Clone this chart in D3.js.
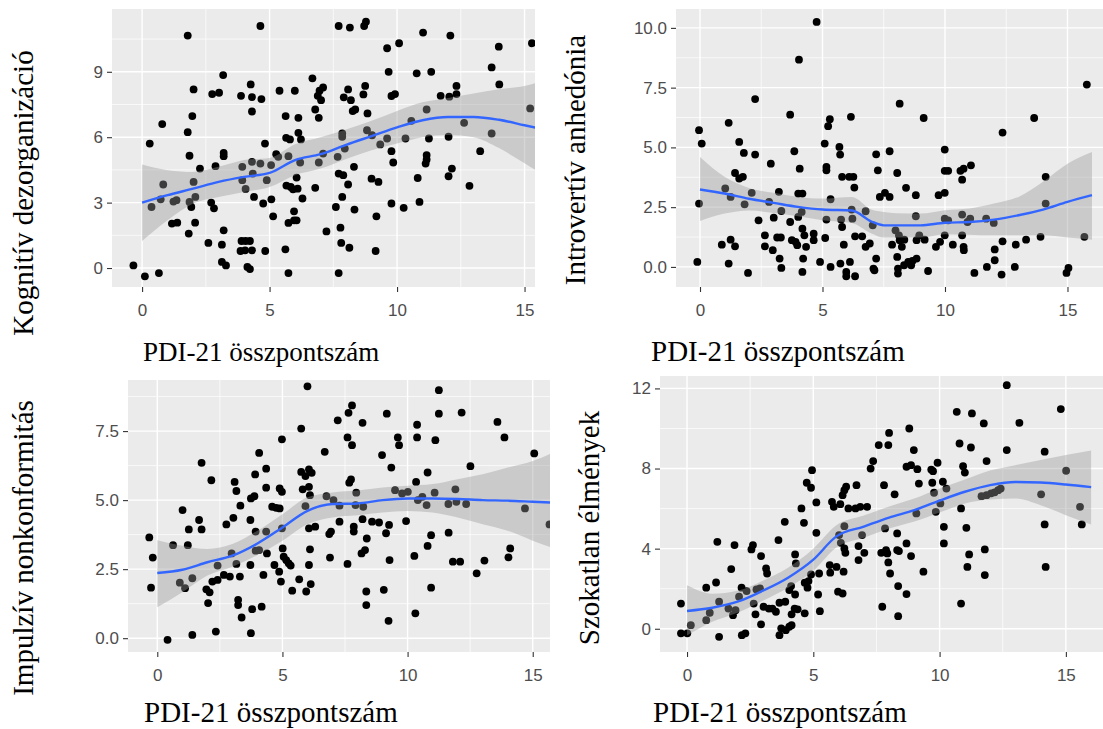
<!DOCTYPE html>
<html>
<head>
<meta charset="utf-8">
<script src="https://cdn.jsdelivr.net/npm/d3@7"></script>
<style>
  body { margin: 0; background: #fff; }
  svg { display: block; }
</style>
</head>
<body>
<svg id="chart" width="1103" height="729"></svg>
<script>
// ---- data: [PDI-21 total, subscale score] ----
const kognitivPoints = [
  [-0.34,0.12],[0.11,-0.38],[0.66,-0.23],[0.30,5.71],[0.37,2.80],[0.79,6.60],[0.83,3.83],[0.73,3.15],[1.17,2.04],[1.38,2.08],
  [1.23,3.05],[1.35,3.11],[1.79,10.66],[1.79,6.23],[1.86,5.15],[1.97,6.97],[2.02,8.19],[1.86,3.03],[1.93,2.80],[1.83,1.58],
  [2.02,3.95],[2.09,3.26],[2.08,2.08],[2.27,4.56],[2.60,1.15],[2.71,3.00],[2.82,2.74],[2.88,4.67],[2.75,7.98],[3.02,8.04],
  [3.18,8.85],[3.20,5.28],[3.20,5.13],[3.20,1.73],[3.13,1.07],[3.13,0.28],[3.29,0.12],[3.88,7.90],[3.93,4.64],[3.93,4.03],
  [4.06,3.63],[3.90,1.24],[4.06,1.24],[4.23,1.24],[3.86,0.78],[4.04,0.81],[4.31,0.81],[4.13,0.05],[4.23,-0.05],[4.26,8.42],
  [4.31,7.84],[4.31,7.18],[4.31,4.87],[4.34,4.33],[4.39,3.26],[4.64,11.10],[4.68,7.75],[4.64,4.79],[4.82,5.71],[4.75,2.96],
  [4.83,0.78],[4.89,4.03],[5.06,4.72],[5.07,3.15],[5.14,2.37],[5.26,5.22],[5.34,5.10],[5.39,8.13],[5.63,6.97],[5.65,5.97],
  [5.80,5.90],[5.66,3.78],[5.83,3.72],[5.92,3.61],[5.96,2.60],[5.96,2.19],[5.74,2.07],[5.62,0.86],[5.74,-0.23],[5.74,5.13],
  [5.99,8.13],[6.13,6.89],[6.13,6.20],[6.23,5.90],[6.20,4.84],[6.06,4.15],[6.10,3.64],[6.29,3.19],[6.06,2.19],[6.68,8.70],
  [6.79,7.27],[6.89,7.90],[6.96,8.13],[7.10,8.28],[7.02,7.70],[6.93,6.89],[7.10,5.25],[6.93,4.84],[6.79,3.68],[7.23,1.68],
  [7.71,11.10],[8.15,11.03],[8.71,11.10],[8.78,11.30],[7.67,5.10],[7.85,6.17],[7.85,6.02],[7.95,5.48],[7.71,4.33],[7.89,4.26],
  [8.08,3.83],[7.85,3.26],[7.60,2.80],[7.78,1.85],[7.81,1.15],[8.13,0.93],[7.71,-0.23],[8.08,8.19],[7.91,7.83],[8.19,7.70],
  [8.26,7.20],[8.36,7.27],[8.31,4.64],[8.33,2.68],[8.68,7.96],[8.75,8.35],[8.84,7.09],[8.82,6.32],[9.02,6.09],[9.00,4.10],
  [9.19,2.37],[9.16,0.78],[9.34,5.67],[9.27,3.95],[9.61,10.08],[9.67,9.00],[9.78,7.89],[9.92,7.98],[9.61,5.94],[9.78,5.36],
  [9.85,4.84],[9.78,2.96],[10.08,10.31],[10.33,5.94],[10.26,2.76],[11.02,10.80],[10.77,8.93],[11.34,9.00],[11.16,7.27],[11.25,5.94],
  [11.16,5.18],[11.16,4.98],[11.12,4.79],[10.81,4.13],[10.88,3.03],[10.56,6.75],[11.71,7.90],[12.05,7.86],[12.09,10.66],[12.33,8.35],
  [12.33,7.98],[12.02,6.02],[12.15,4.56],[12.02,4.21],[12.63,6.66],[12.84,3.77],[13.26,5.36],[13.71,9.20],[13.71,6.17],[13.99,10.15],
  [14.01,8.42],[15.22,7.32],[15.29,10.31]
];

const introvertPoints = [
  [-0.11,0.21],[-0.04,2.65],[-0.04,5.72],[0.07,5.16],[0.89,0.93],[1.03,3.28],[1.17,6.03],[1.17,0.14],[1.25,1.14],[1.25,2.93],
  [1.43,0.86],[1.43,3.93],[1.60,5.23],[1.60,3.70],[1.75,3.77],[1.79,4.77],[1.82,2.62],[1.96,-0.25],[2.11,3.10],[2.25,7.02],
  [2.25,4.70],[2.39,1.95],[2.65,1.32],[2.65,0.86],[2.82,2.72],[2.89,4.32],[2.97,0.70],[3.01,2.06],[3.15,1.23],[3.30,1.23],
  [3.25,0.35],[3.32,-0.04],[3.22,3.14],[3.32,2.34],[3.68,6.37],[3.68,1.88],[3.75,1.12],[3.85,4.84],[3.90,1.05],[3.97,0.91],
  [4.01,2.09],[4.04,8.67],[4.07,4.11],[4.01,3.07],[4.18,3.07],[4.15,2.30],[4.18,1.60],[4.21,0.35],[4.18,-0.21],[4.26,1.32],
  [4.33,0.84],[4.64,1.39],[4.64,1.12],[4.76,10.25],[4.90,0.21],[5.09,5.16],[5.16,4.18],[5.16,4.04],[5.11,1.21],[5.16,1.98],
  [5.23,5.89],[5.30,6.18],[5.33,2.83],[5.33,0.00],[5.69,5.02],[5.72,4.70],[5.73,0.14],[5.80,3.77],[5.76,1.98],[5.80,1.67],
  [5.87,0.93],[5.97,-0.21],[5.97,-0.39],[6.09,3.77],[6.16,6.28],[6.12,0.21],[6.19,2.40],[6.22,2.02],[6.30,3.32],[6.33,-0.39],
  [6.26,3.77],[6.33,1.28],[6.62,1.28],[6.76,2.33],[6.76,0.84],[6.93,0.98],[7.05,1.74],[7.08,-0.07],[7.12,-0.14],[7.19,0.35],
  [7.19,4.71],[7.26,4.04],[7.34,2.93],[7.55,3.10],[7.74,2.93],[7.74,4.84],[7.84,0.93],[7.98,1.53],[8.05,3.93],[8.05,0.42],
  [8.15,6.83],[8.12,1.32],[8.15,1.12],[8.08,-0.07],[8.08,-0.28],[8.24,0.84],[8.34,1.14],[8.41,3.31],[8.33,0.07],[8.50,0.21],
  [8.62,0.07],[8.67,0.25],[8.81,3.00],[8.81,2.12],[8.84,1.12],[8.84,0.35],[8.95,1.32],[9.13,6.23],[9.17,1.14],[9.31,-0.17],
  [9.63,0.84],[9.74,3.00],[9.80,1.05],[9.99,4.91],[9.99,3.10],[9.99,4.02],[10.13,4.02],[9.99,2.02],[9.99,1.32],[10.13,1.95],
  [10.32,0.93],[10.63,4.02],[10.70,3.65],[10.76,4.11],[10.76,0.84],[10.77,0.70],[10.70,2.19],[10.70,1.32],[10.92,1.88],[11.06,4.25],
  [11.03,2.02],[11.20,-0.25],[11.68,2.02],[11.71,0.00],[11.99,1.84],[12.03,0.73],[12.03,0.28],[12.35,5.62],[12.35,1.07],[12.31,-0.32],
  [12.89,0.93],[12.85,0.00],[13.31,1.14],[13.64,6.23],[13.90,1.26],[14.11,3.77],[14.11,2.65],[14.96,-0.25],[15.04,-0.04],[15.69,1.26],
  [15.79,7.63]
];

const impulzivPoints = [
  [-0.32,3.65],[-0.18,2.92],[-0.25,1.83],[0.41,-0.06],[0.63,3.37],[0.90,2.01],[1.01,4.64],[1.11,1.81],[1.22,3.37],[1.26,3.94],
  [1.40,2.17],[1.40,0.12],[1.67,4.28],[1.77,6.35],[1.77,3.94],[1.96,1.77],[2.03,1.27],[2.09,1.66],[2.16,5.72],[2.20,2.05],
  [2.34,0.24],[2.41,2.11],[2.41,2.63],[2.66,2.29],[2.76,4.12],[2.90,2.23],[2.97,3.07],[3.04,4.36],[3.09,5.66],[3.16,5.33],
  [3.16,2.69],[3.23,1.39],[3.23,1.20],[3.30,2.23],[3.32,4.80],[3.37,0.75],[3.72,4.28],[3.72,2.65],[3.74,5.06],[3.74,0.18],
  [3.79,1.05],[3.88,5.14],[3.91,5.93],[3.93,3.86],[3.93,3.17],[4.07,3.19],[4.07,6.71],[4.17,1.14],[4.24,2.29],[4.35,6.14],
  [4.35,5.45],[4.35,3.86],[4.38,3.07],[4.59,4.76],[4.68,2.65],[4.75,4.72],[4.87,2.41],[4.89,5.42],[4.89,4.70],[4.94,2.05],
  [4.98,7.20],[4.98,5.30],[4.98,3.98],[5.01,3.25],[5.05,2.95],[5.15,2.83],[5.25,2.71],[5.33,2.63],[5.39,1.72],[5.67,2.13],
  [5.75,7.59],[5.75,6.02],[5.81,5.39],[5.92,4.78],[5.95,1.69],[6.00,9.12],[5.92,5.87],[6.06,6.11],[6.06,5.48],[6.10,5.18],
  [6.06,3.98],[6.10,3.22],[6.06,2.65],[6.13,1.96],[6.17,5.99],[6.31,4.04],[6.69,6.75],[6.76,5.14],[6.87,3.77],[6.90,2.92],
  [6.94,3.86],[7.04,5.00],[7.21,7.89],[7.28,4.80],[7.28,4.22],[7.60,7.27],[7.60,2.69],[7.64,8.16],[7.78,8.43],[7.78,6.99],
  [7.67,5.63],[7.74,5.75],[7.85,4.04],[7.85,3.86],[7.95,5.27],[7.92,4.82],[8.20,7.80],[8.20,4.31],[8.16,3.07],[8.30,3.19],
  [8.37,3.61],[8.35,1.69],[8.35,1.20],[8.23,4.76],[8.58,4.22],[8.86,4.19],[8.98,6.63],[9.05,1.75],[9.14,3.80],[9.17,8.13],
  [9.26,4.10],[9.28,2.83],[9.24,0.63],[9.35,6.18],[9.61,7.27],[9.66,6.99],[9.50,5.36],[9.78,5.24],[9.94,4.24],[10.01,5.30],
  [10.27,2.98],[10.31,0.90],[10.34,5.66],[10.38,7.73],[10.38,7.27],[10.41,5.00],[10.59,5.12],[10.76,4.82],[10.80,6.00],[10.80,3.34],
  [10.94,3.73],[10.94,1.83],[11.11,7.17],[11.08,5.27],[11.25,8.98],[11.25,8.13],[11.63,4.86],[11.64,3.82],[11.81,2.77],[11.91,5.39],
  [11.95,4.94],[12.10,2.77],[12.16,8.17],[12.34,4.86],[12.51,6.23],[12.76,2.35],[13.07,2.81],[13.59,7.83],[13.87,7.27],[14.03,2.93],
  [14.10,3.25],[14.69,4.70],[15.06,6.69],[15.67,4.12]
];

const szokatlanPoints = [
  [-0.24,1.26],[-0.24,-0.23],[0.01,-0.23],[0.15,0.18],[0.76,2.05],[0.76,0.43],[0.90,0.80],[1.15,2.31],[1.20,4.34],[1.27,1.35],
  [1.27,-0.40],[1.64,1.01],[1.75,2.98],[1.82,0.68],[1.88,4.18],[1.92,0.93],[2.06,1.60],[2.16,2.05],[2.17,-0.32],[2.31,-0.23],
  [2.36,1.88],[2.55,3.96],[2.61,4.18],[2.64,1.26],[2.71,0.72],[2.75,1.96],[2.89,2.01],[2.93,3.63],[2.93,0.22],[3.03,1.10],
  [3.13,3.01],[3.17,2.76],[3.24,1.01],[3.38,1.01],[3.52,0.85],[3.62,4.43],[3.66,1.30],[3.66,-0.32],[3.73,0.02],[3.87,5.34],
  [3.89,1.35],[3.91,-0.07],[4.05,0.10],[4.14,0.18],[4.05,1.93],[4.12,2.13],[4.14,0.72],[4.28,3.71],[4.31,3.26],[4.28,1.71],
  [4.26,1.01],[4.38,0.97],[4.53,6.01],[4.63,5.29],[4.66,2.30],[4.66,0.77],[4.74,7.29],[4.77,2.05],[4.81,2.38],[4.91,2.71],
  [4.91,7.04],[4.95,7.92],[5.12,6.31],[5.12,4.79],[5.19,1.71],[5.23,2.76],[5.26,0.88],[5.65,3.18],[5.67,2.80],[5.74,6.34],
  [5.81,6.09],[5.92,3.09],[5.98,1.85],[6.02,4.68],[6.07,6.22],[6.09,4.29],[6.16,1.76],[6.16,6.67],[6.23,6.92],[6.23,5.12],
  [6.30,7.09],[6.23,4.01],[6.27,3.79],[6.20,2.85],[6.39,6.01],[6.67,6.01],[6.71,7.17],[6.79,4.13],[6.79,3.43],[6.86,6.09],
  [6.93,4.68],[7.02,3.79],[7.13,6.09],[7.27,8.00],[7.37,8.37],[7.59,9.17],[7.73,1.10],[7.69,3.79],[7.80,7.17],[7.84,5.01],
  [7.88,3.93],[7.93,3.76],[7.97,9.17],[8.00,9.78],[7.97,3.31],[8.04,2.76],[8.22,6.71],[8.32,4.76],[8.32,3.93],[8.36,2.13],
  [8.36,0.63],[8.39,3.88],[8.69,4.26],[8.69,1.73],[8.69,8.09],[8.80,10.00],[8.87,3.63],[8.87,8.17],[8.98,8.92],[9.08,5.76],
  [9.12,7.97],[9.18,7.25],[9.36,2.85],[9.67,7.95],[9.71,7.29],[9.74,7.87],[9.78,6.79],[9.85,5.84],[9.92,8.29],[10.03,6.26],
  [10.13,7.34],[10.17,5.09],[10.17,4.26],[10.27,7.00],[10.68,10.83],[10.79,9.25],[10.85,6.01],[10.85,1.26],[10.93,8.12],[11.00,7.80],
  [11.06,5.04],[11.10,3.09],[11.17,3.71],[11.28,10.75],[11.24,9.05],[11.66,6.62],[11.75,10.25],[11.79,3.96],[11.79,2.68],[11.86,8.37],
  [11.86,6.67],[12.04,6.76],[12.18,6.81],[12.32,6.92],[12.42,7.00],[12.66,12.16],[12.66,8.92],[13.16,10.28],[14.02,6.71],[14.16,8.84],
  [14.16,5.21],[14.20,3.09],[14.80,10.97],[15.01,7.89],[15.56,6.09],[15.63,5.21]
];

// loess fit: [x, fit, lower, upper]
const kognitivSmooth = [
  [0,3.00,1.24,4.75],[1,3.34,2.19,4.49],[2,3.64,2.96,4.41],[3,3.95,3.26,4.64],[4,4.18,3.49,4.95],[5,4.36,3.72,5.05],
  [6,4.95,4.26,5.68],[7,5.22,4.56,6.00],[8,5.65,5.00,6.35],[9,6.05,5.40,6.75],[10,6.45,5.71,7.20],[11,6.78,6.00,7.60],
  [12,6.93,6.10,7.80],[13,6.93,6.00,8.00],[14,6.80,5.50,8.20],[15,6.55,4.80,8.35],[16,6.30,4.10,8.70]
];
const introvertSmooth = [
  [0,3.24,1.92,4.60],[1,3.07,2.23,3.77],[2,2.85,2.36,3.30],[3,2.68,2.26,3.10],[4,2.51,2.12,2.93],[5,2.40,1.95,2.86],
  [6.2,2.36,1.84,2.93],[7,1.90,1.40,2.40],[7.5,1.74,1.23,2.30],[8,1.74,1.23,2.25],[9,1.74,1.23,2.23],[10,1.85,1.37,2.37],
  [11,1.88,1.35,2.44],[12,1.98,1.32,2.65],[13,2.16,1.32,2.93],[14,2.40,1.32,3.56],[15,2.72,1.23,4.32],[16,3.00,1.14,4.81]
];
const impulzivSmooth = [
  [0,2.36,1.12,3.55],[1,2.48,1.66,3.35],[2,2.75,2.27,3.23],[3,2.99,2.59,3.41],[4,3.43,3.01,3.89],[5,4.01,3.53,4.49],
  [6,4.61,4.13,5.10],[7,4.86,4.37,5.28],[8,4.88,4.45,5.35],[9,5.00,4.55,5.46],[10,5.06,4.61,5.52],[11,5.06,4.55,5.58],
  [12,5.04,4.37,5.76],[13,5.00,4.13,5.94],[14,4.98,3.89,6.18],[15,4.94,3.53,6.42],[16,4.90,3.20,6.80]
];
const szokatlanSmooth = [
  [0,0.89,-0.33,2.17],[1,1.05,0.35,1.75],[2,1.35,0.80,1.90],[3,1.90,1.40,2.40],[4,2.55,2.05,3.05],[5,3.45,2.90,4.00],
  [5.9,4.60,4.05,5.15],[7,5.10,4.55,5.65],[8,5.55,5.00,6.10],[9,5.92,5.35,6.50],[10,6.40,5.80,7.00],[11,6.84,6.25,7.45],
  [12,7.17,6.45,7.90],[13,7.33,6.50,8.17],[14,7.30,6.17,8.42],[15,7.20,5.67,8.67],[16,7.07,5.20,8.90]
];

// tick labels
const xTickValues = [0, 5, 10, 15];
const kognitivYTicks = [0, 3, 6, 9];
const introvertYTicks = [0, 2.5, 5, 7.5, 10];
const impulzivYTicks = [0, 2.5, 5, 7.5];
const szokatlanYTicks = [0, 4, 8, 12];

const xTitle = "PDI-21 összpontszám";

const panels = [
  { id: 1, yTitle: "Kognitív dezorganizáció", points: kognitivPoints, smooth: kognitivSmooth,
    yTicks: kognitivYTicks, yFormat: d3.format("d"),
    left: 112, right: 535, top: 9, bottom: 287, xDomain: [-1.18, 15.41], yDomain: [-0.87, 11.88],
    yTitleX: 33, yTitleY: 193, xTitleX: 143, xTitleY: 361, xTitleSize: 27 },
  { id: 2, yTitle: "Introvertív anhedónia", points: introvertPoints, smooth: introvertSmooth,
    yTicks: introvertYTicks, yFormat: d3.format(".1f"),
    left: 676, right: 1103, top: 9, bottom: 287, xDomain: [-0.98, 16.45], yDomain: [-0.84, 10.79],
    yTitleX: 585, yTitleY: 160, xTitleX: 651, xTitleY: 361, xTitleSize: 29 },
  { id: 3, yTitle: "Impulzív nonkonformitás", points: impulzivPoints, smooth: impulzivSmooth,
    yTicks: impulzivYTicks, yFormat: d3.format(".1f"),
    left: 128, right: 550, top: 380, bottom: 652, xDomain: [-1.17, 15.69], yDomain: [-0.50, 9.35],
    yTitleX: 33, yTitleY: 548, xTitleX: 144, xTitleY: 722, xTitleSize: 29 },
  { id: 4, yTitle: "Szokatlan élmények", points: szokatlanPoints, smooth: szokatlanSmooth,
    yTicks: szokatlanYTicks, yFormat: d3.format("d"),
    left: 660, right: 1103, top: 376, bottom: 652, xDomain: [-1.07, 16.47], yDomain: [-1.16, 12.62],
    yTitleX: 599, yTitleY: 528, xTitleX: 653, xTitleY: 722, xTitleSize: 29 }
];

const svg = d3.select("#chart");

// midpoints between major breaks, plus one step outside if still in range
function minorBreaks(major, domain) {
  const step = major[1] - major[0];
  const out = [];
  for (let v = major[0] - step / 2; v <= domain[1]; v += step) {
    if (v >= domain[0]) out.push(v);
  }
  return out;
}

function drawPanel(p) {
  const x = d3.scaleLinear().domain(p.xDomain).range([p.left, p.right]);
  const y = d3.scaleLinear().domain(p.yDomain).range([p.bottom, p.top]);
  const clipId = "clip" + p.id;

  svg.append("clipPath").attr("id", clipId)
    .append("rect")
    .attr("x", p.left).attr("y", p.top)
    .attr("width", p.right - p.left).attr("height", p.bottom - p.top);

  const g = svg.append("g").attr("clip-path", `url(#${clipId})`);

  g.append("rect")
    .attr("x", p.left).attr("y", p.top)
    .attr("width", p.right - p.left).attr("height", p.bottom - p.top)
    .attr("fill", "#EBEBEB");

  // minor grid
  g.selectAll(".minor-x").data(minorBreaks(xTickValues, p.xDomain)).enter()
    .append("line")
    .attr("x1", d => x(d)).attr("x2", d => x(d))
    .attr("y1", p.top).attr("y2", p.bottom)
    .attr("stroke", "#fff").attr("stroke-width", 0.7);
  g.selectAll(".minor-y").data(minorBreaks(p.yTicks, p.yDomain)).enter()
    .append("line")
    .attr("y1", d => y(d)).attr("y2", d => y(d))
    .attr("x1", p.left).attr("x2", p.right)
    .attr("stroke", "#fff").attr("stroke-width", 0.7);

  // major grid
  g.selectAll(".major-x").data(xTickValues).enter()
    .append("line")
    .attr("x1", d => x(d)).attr("x2", d => x(d))
    .attr("y1", p.top).attr("y2", p.bottom)
    .attr("stroke", "#fff").attr("stroke-width", 1.4);
  g.selectAll(".major-y").data(p.yTicks).enter()
    .append("line")
    .attr("y1", d => y(d)).attr("y2", d => y(d))
    .attr("x1", p.left).attr("x2", p.right)
    .attr("stroke", "#fff").attr("stroke-width", 1.4);

  // points
  g.selectAll(".pt").data(p.points).enter()
    .append("circle")
    .attr("cx", d => x(d[0]))
    .attr("cy", d => y(d[1]))
    .attr("r", 3.9)
    .attr("fill", "#000");

  // confidence ribbon
  const area = d3.area()
    .x(d => x(d[0]))
    .y0(d => y(d[2]))
    .y1(d => y(d[3]))
    .curve(d3.curveMonotoneX);
  g.append("path")
    .datum(p.smooth)
    .attr("d", area)
    .attr("fill", "#999999")
    .attr("fill-opacity", 0.4);

  // fitted line
  const line = d3.line()
    .x(d => x(d[0]))
    .y(d => y(d[1]))
    .curve(d3.curveMonotoneX);
  g.append("path")
    .datum(p.smooth)
    .attr("d", line)
    .attr("fill", "none")
    .attr("stroke", "#3366FF")
    .attr("stroke-width", 2.4);

  // axes
  const xAxis = svg.append("g")
    .attr("transform", `translate(0,${p.bottom})`)
    .call(d3.axisBottom(x).tickValues(xTickValues).tickSize(5).tickPadding(12).tickFormat(d3.format("d")));
  const yAxis = svg.append("g")
    .attr("transform", `translate(${p.left},0)`)
    .call(d3.axisLeft(y).tickValues(p.yTicks).tickSize(5).tickPadding(4).tickFormat(p.yFormat));

  [xAxis, yAxis].forEach(a => {
    a.select(".domain").remove();
    a.selectAll(".tick line").attr("stroke", "#333333").attr("stroke-width", 1.1);
    a.selectAll(".tick text")
      .attr("fill", "#4D4D4D")
      .style("font-family", "'Liberation Sans', Arial, sans-serif")
      .style("font-size", "17px");
  });

  // titles
  svg.append("text")
    .attr("x", p.xTitleX)
    .attr("y", p.xTitleY)
    .attr("text-anchor", "start")
    .style("font-family", "'Liberation Serif', 'Times New Roman', serif")
    .style("font-size", p.xTitleSize + "px")
    .attr("fill", "#000")
    .text(xTitle);

  svg.append("text")
    .attr("transform", `translate(${p.yTitleX},${p.yTitleY}) rotate(-90)`)
    .attr("text-anchor", "middle")
    .style("font-family", "'Liberation Serif', 'Times New Roman', serif")
    .style("font-size", "29px")
    .attr("fill", "#000")
    .text(p.yTitle);
}

panels.forEach(drawPanel);
</script>
</body>
</html>
